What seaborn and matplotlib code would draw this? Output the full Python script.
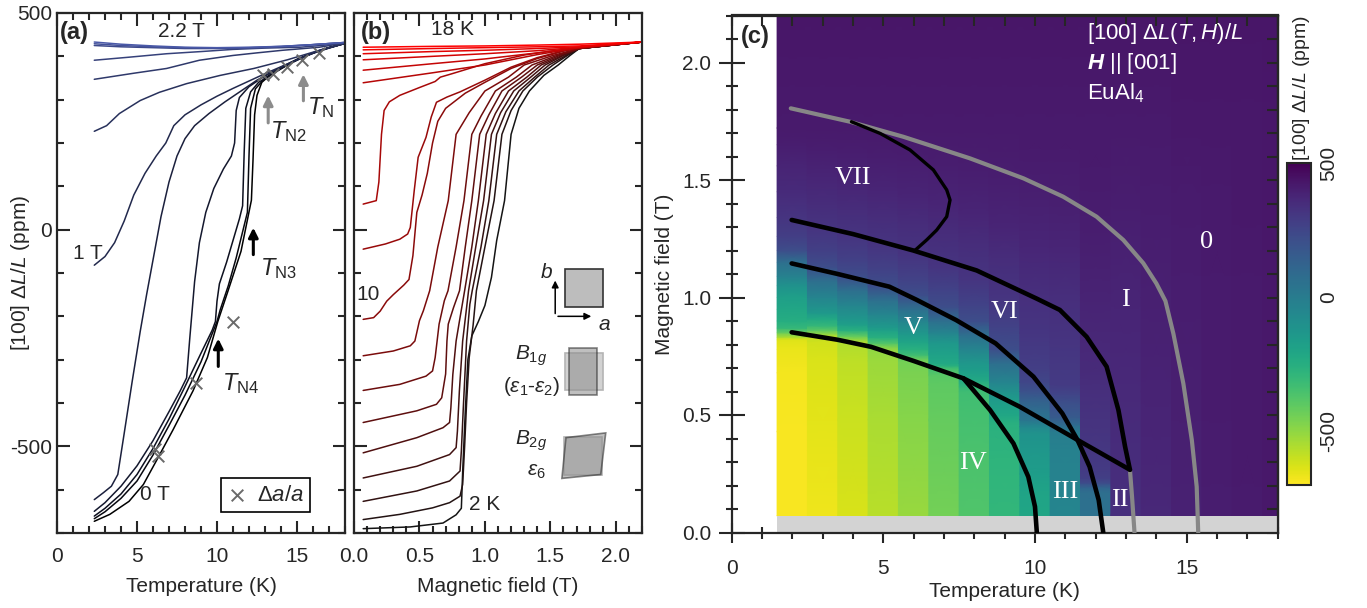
import numpy as np
import pandas as pd
import seaborn as sns
import matplotlib
matplotlib.use('Agg')
import matplotlib.pyplot as plt
from matplotlib.colors import Normalize
from matplotlib.cm import ScalarMappable
from matplotlib.patches import Rectangle, Polygon
from matplotlib.ticker import MultipleLocator

# ---------------- (a) dL/L vs temperature, one curve per field (T) ----------------
a_fields = [0.0, 0.2, 0.4, 0.6, 0.8, 1.0, 1.2, 1.4, 1.6, 1.8, 2.0, 2.2]
a_00T = [(2.33, -673), (3.3, -657), (4.5, -627), (5.4, -588), (6.2, -534), (7.25, -462), (8.5, -372),
         (9.4, -295), (10.05, -212), (10.7, -140), (11.5, -50), (12.15, 68), (12.25, 160), (12.35, 265),
         (12.5, 310), (12.8, 340), (13.3, 356), (14, 372), (15, 392), (16, 408), (17, 420), (18, 430)]
a_02T = [(2.33, -667), (3, -651), (4, -620), (5, -580), (6, -520), (7, -452), (8, -382), (9, -305),
         (10.0, -212), (10.2, -185), (10.7, -130), (11.2, -65), (11.6, -5), (11.9, 40), (12.0, 170),
         (12.1, 280), (12.4, 325), (13.0, 350), (14.0, 373), (15.0, 393), (16.0, 408), (17.0, 420), (18.0, 430)]
a_04T = [(2.33, -661), (3, -643), (4, -610), (5, -565), (6, -505), (7, -437), (8, -362), (9, -285),
         (9.7, -232), (9.9, -212), (10.0, -165), (10.15, -125), (10.6, -75), (11.0, -25), (11.4, 25),
         (11.6, 55), (11.7, 180), (11.8, 280), (12.1, 318), (12.6, 340), (13.5, 360), (14.5, 382),
         (15.5, 400), (16.5, 415), (18.0, 430)]
a_06T = [(2.33, -650), (3, -630), (4, -592), (5, -545), (6, -487), (7, -420), (7.7, -372), (8.1, -342),
         (8.3, -250), (8.6, -120), (8.9, -30), (9.3, 40), (9.8, 95), (10.4, 140), (10.9, 170), (11.1, 200),
         (11.2, 275), (11.4, 305), (12.0, 330), (13.0, 355), (14.0, 375), (15.0, 393), (16.0, 408),
         (17.0, 420), (18.0, 430)]
a_08T = [(2.33, -623), (2.9, -607), (3.4, -592), (3.8, -565), (4.2, -470), (4.7, -350), (5.2, -235),
         (5.6, -150), (6.0, -70), (6.5, 30), (7.0, 110), (7.5, 170), (8.0, 210), (8.6, 240), (9.5, 268),
         (10.5, 295), (11.5, 320), (12.5, 345), (13.5, 365), (14.5, 383), (15.5, 400), (16.5, 414), (18.0, 430)]
a_10T = [(2.33, -82), (3.0, -62), (3.6, -30), (4.2, 20), (4.8, 80), (5.5, 130), (6.2, 170), (6.8, 200),
         (7.3, 240), (8.0, 265), (9.0, 288), (10.0, 308), (11.0, 326), (12.0, 343), (13.0, 360),
         (14.0, 376), (15.0, 392), (16.0, 407), (17.0, 419), (18.0, 430)]
a_12T = [(2.33, 227), (3.1, 240), (3.9, 268), (5.2, 298), (6.4, 317), (8.1, 337), (10.2, 356),
         (12.3, 372), (14.4, 392), (16.4, 414), (18, 430)]
a_14T = [(2.33, 347), (4.8, 361), (6.85, 372), (8.9, 391), (11, 402), (12.5, 408), (14.1, 414),
         (16.4, 421), (18, 431)]
a_16T = [(2.33, 391), (4.5, 398), (6.85, 406), (9, 411), (11, 416), (13, 419), (15.2, 421),
         (16.5, 425), (18, 431)]
a_18T = [(2.33, 425), (4, 422), (6, 420), (8, 418), (10, 418), (12, 419), (14, 422), (16, 427), (18, 432)]
a_20T = [(2.33, 429), (4, 425), (6, 422), (8, 420), (10, 419), (12, 420), (14, 423), (16, 427), (18, 432)]
a_22T = [(2.33, 433), (4, 428), (6, 424), (8, 421), (10, 420), (12, 421), (14, 423), (16, 427), (18, 432)]
a_curves = [a_00T, a_02T, a_04T, a_06T, a_08T, a_10T, a_12T, a_14T, a_16T, a_18T, a_20T, a_22T]

# lattice parameter points (x markers)
a_cross_T = [6.1, 6.3, 8.7, 11.0, 12.9, 13.5, 14.4, 15.3, 16.4]
a_cross_v = [-507, -522, -353, -214, 356, 360, 375, 391, 407]

# ---------------- (b) dL/L vs field, one curve per temperature (K) ----------------
b_temps = [2, 3, 4, 5, 6, 7, 8, 9, 10, 11, 12, 13, 14, 15, 16, 17, 18]
b_02K = [(0.07, -690), (0.43, -686), (0.68, -677), (0.78, -658), (0.82, -643), (0.83, -560), (0.85, -420),
         (0.87, -300), (0.9, -245), (0.95, -212), (1.0, -175), (1.05, -110), (1.09, -25), (1.15, 67),
         (1.2, 220), (1.26, 280), (1.34, 320), (1.45, 356), (1.56, 380), (1.65, 402), (1.72, 418), (2.2, 433)]
b_03K = [(0.07, -669), (0.35, -657), (0.6, -642), (0.73, -630), (0.81, -615), (0.83, -588), (0.845, -500),
         (0.86, -400), (0.88, -295), (0.91, -220), (0.935, -141), (1.0, -40), (1.07, 67), (1.13, 220),
         (1.2, 275), (1.29, 320), (1.4, 352), (1.52, 380), (1.63, 402), (1.72, 418), (2.2, 433)]
b_04K = [(0.07, -627), (0.48, -603), (0.73, -580), (0.81, -557), (0.82, -511), (0.835, -411), (0.86, -257),
         (0.885, -172), (0.903, -141), (0.97, -40), (1.03, 67), (1.09, 220), (1.16, 272), (1.26, 320),
         (1.38, 352), (1.49, 380), (1.62, 402), (1.72, 418), (2.2, 433)]
b_05K = [(0.07, -573), (0.48, -546), (0.73, -519), (0.78, -503), (0.79, -465), (0.805, -372), (0.83, -257),
         (0.86, -180), (0.875, -141), (0.93, -40), (0.99, 67), (1.05, 220), (1.12, 270), (1.22, 320),
         (1.35, 352), (1.46, 380), (1.6, 402), (1.72, 418), (2.2, 433)]
b_06K = [(0.07, -515), (0.48, -480), (0.68, -457), (0.73, -445), (0.74, -411), (0.755, -334), (0.78, -257),
         (0.81, -203), (0.845, -141), (0.9, -40), (0.95, 67), (1.01, 220), (1.08, 268), (1.18, 320),
         (1.32, 352), (1.43, 380), (1.59, 402), (1.72, 418), (2.2, 433)]
b_07K = [(0.07, -445), (0.48, -418), (0.63, -403), (0.67, -388), (0.7, -333), (0.71, -257), (0.72, -218),
         (0.76, -180), (0.806, -141), (0.85, -40), (0.9, 67), (0.96, 220), (1.03, 265), (1.13, 320),
         (1.28, 352), (1.4, 380), (1.57, 402), (1.72, 418), (2.2, 433)]
b_08K = [(0.07, -371), (0.35, -357), (0.55, -338), (0.6, -326), (0.62, -295), (0.65, -218), (0.69, -164),
         (0.718, -141), (0.78, -40), (0.84, 67), (0.9, 220), (0.97, 262), (1.08, 320), (1.24, 352),
         (1.36, 380), (1.55, 402), (1.72, 418), (2.2, 433)]
b_09K = [(0.07, -291), (0.3, -280), (0.43, -268), (0.465, -257), (0.5, -210), (0.53, -187), (0.578, -141),
         (0.64, -40), (0.72, 67), (0.78, 220), (0.88, 270), (1.0, 320), (1.18, 352), (1.3, 380),
         (1.52, 402), (1.72, 418), (2.2, 433)]
b_10K = [(0.07, -207), (0.15, -203), (0.2, -188), (0.25, -165), (0.3, -150), (0.38, -128), (0.42, -115),
         (0.45, -60), (0.48, 40), (0.52, 80), (0.56, 130), (0.6, 200), (0.64, 250), (0.7, 280), (0.85, 315),
         (1.0, 340), (1.2, 372), (1.4, 395), (1.6, 412), (1.72, 419), (2.2, 433)]
b_11K = [(0.07, -45), (0.24, -33), (0.35, -22), (0.41, -10), (0.43, 5), (0.46, 90), (0.49, 167), (0.52, 190),
         (0.55, 213), (0.59, 260), (0.63, 294), (0.71, 306), (0.81, 318), (1.0, 345), (1.2, 375),
         (1.4, 397), (1.6, 413), (1.72, 419), (2.2, 433)]
b_12K = [(0.07, 59), (0.17, 67), (0.19, 110), (0.21, 220), (0.23, 275), (0.27, 295), (0.35, 310),
         (0.5, 328), (0.62, 342), (0.66, 352), (0.75, 360), (1.0, 383), (1.3, 403), (1.5, 412),
         (1.72, 420), (2.2, 433)]
b_13K = [(0.07, 339), (0.6, 362), (1.0, 380), (1.4, 404), (1.72, 420), (2.2, 433)]
b_14K = [(0.07, 368), (0.6, 383), (1.0, 394), (1.4, 408), (1.72, 420), (2.2, 433)]
b_15K = [(0.07, 392), (0.6, 400), (1.0, 406), (1.4, 413), (1.72, 421), (2.2, 433)]
b_16K = [(0.07, 406), (0.6, 411), (1.0, 414), (1.4, 418), (1.72, 422), (2.2, 433)]
b_17K = [(0.07, 415), (0.6, 418), (1.0, 420), (1.4, 422), (1.72, 424), (2.2, 433)]
b_18K = [(0.07, 421), (0.6, 423), (1.0, 424), (1.4, 426), (1.72, 428), (2.2, 433)]
b_curves = [b_02K, b_03K, b_04K, b_05K, b_06K, b_07K, b_08K, b_09K, b_10K, b_11K, b_12K,
            b_13K, b_14K, b_15K, b_16K, b_17K, b_18K]

# ---------------- (c) phase boundaries (T in K, H in T) ----------------
c_TN = [(1.95, 1.805), (3.9, 1.748), (5.66, 1.684), (7.86, 1.592), (9.62, 1.507), (10.93, 1.429),
        (12.03, 1.344), (12.91, 1.245), (13.57, 1.146), (14.0, 1.06), (14.3, 0.985), (14.56, 0.847),
        (14.89, 0.634), (15.17, 0.393), (15.33, 0.195), (15.38, 0.0)]
c_TN2 = [(13.13, 0.267), (13.2, 0.15), (13.28, 0.0)]
c_line1 = [(1.98, 1.33), (4.0, 1.27), (5.99, 1.2), (8.08, 1.115), (10.06, 0.995), (10.82, 0.947),
           (11.7, 0.833), (12.36, 0.706), (12.75, 0.521), (12.97, 0.365), (13.13, 0.267)]
c_line2 = [(1.98, 1.145), (3.5, 1.10), (5.2, 1.046), (6.1, 0.99), (7.4, 0.904), (8.7, 0.805),
           (9.95, 0.663), (10.9, 0.507), (11.4, 0.394), (11.8, 0.28), (12.1, 0.138), (12.25, 0.0)]
c_line3 = [(1.98, 0.852), (3.5, 0.82), (4.6, 0.79), (6.0, 0.73), (7.64, 0.656), (9.5, 0.535),
           (11.4, 0.394), (13.13, 0.267)]
c_line4 = [(7.64, 0.656), (8.52, 0.521), (9.29, 0.379), (9.78, 0.237), (10.0, 0.11), (10.06, 0.0)]
c_line7 = [(3.95, 1.748), (4.9, 1.698), (5.88, 1.628), (6.65, 1.543), (7.09, 1.458), (7.2, 1.415),
           (7.09, 1.344), (6.76, 1.287), (6.43, 1.245), (6.04, 1.2)]
c_phase_names = ['0', 'I', 'II', 'III', 'IV', 'V', 'VI', 'VII']
c_phase_T = [15.66, 12.97, 12.8, 11.0, 7.97, 5.99, 9.0, 4.01]
c_phase_H = [1.237, 0.99, 0.138, 0.174, 0.294, 0.869, 0.94, 1.507]
c_gray_top = [0.07] * 17   # lowest measured field per temperature column

# ---------------- style ----------------
sns.set_theme(style='ticks')
plt.rcParams['font.family'] = ['Liberation Sans', 'DejaVu Sans']
plt.rcParams.update({
    'font.size': 15,
    'axes.unicode_minus': False,
    'axes.linewidth': 1.6,
    'mathtext.fontset': 'custom',
    'mathtext.rm': 'Liberation Sans',
    'mathtext.it': 'Liberation Sans:italic',
    'mathtext.bf': 'Liberation Sans:bold',
    'mathtext.bfit': 'Liberation Sans:bold:italic',
})

W, H = 1367, 608
fig = plt.figure(figsize=(W / 100, H / 100), dpi=100)
axa = fig.add_axes([57 / W, 75 / H, 288 / W, 520 / H])
axb = fig.add_axes([354 / W, 75 / H, 288 / W, 520 / H])
axc = fig.add_axes([731.6 / W, 75.5 / H, 546.1 / W, 517 / H])
cax = fig.add_axes([1287 / W, 123 / H, 24 / W, 322 / H])


def long_frame(keys, curves, xname):
    rows = [(str(k), x, v) for k, c in zip(keys, curves) for x, v in c]
    return pd.DataFrame(rows, columns=['key', xname, 'v'])


def in_ticks(ax):
    ax.tick_params(which='both', direction='in', top=True, right=True, width=1.5, labelsize=15)
    ax.tick_params(which='major', length=9)
    ax.tick_params(which='minor', length=5)
    ax.tick_params(axis='x', pad=10)


# ---------------- panel (a) ----------------
pal_a = {str(B): (0.29 * B / 2.2, 0.35 * B / 2.2, 0.66 * B / 2.2) for B in a_fields}
df_a = long_frame(a_fields, a_curves, 'T')
sns.lineplot(data=df_a, x='T', y='v', hue='key', palette=pal_a, estimator=None, sort=False,
             legend=False, lw=1.1, ax=axa)
sns.scatterplot(x=a_cross_T, y=a_cross_v, marker='x', color='#6a6a6a', s=70, linewidth=1.4,
                label=r'$\Delta a/a$', ax=axa, zorder=5)
axa.set_xlim(0, 18)
axa.set_ylim(-700, 500)
axa.xaxis.set_major_locator(MultipleLocator(5))
axa.xaxis.set_minor_locator(MultipleLocator(1))
axa.yaxis.set_major_locator(MultipleLocator(500))
axa.yaxis.set_minor_locator(MultipleLocator(100))
in_ticks(axa)
axa.set_xlabel('Temperature (K)', fontsize=15, labelpad=8)
axa.set_ylabel(r'[100] $\Delta L/L$ (ppm)', fontsize=15)
axa.yaxis.set_label_coords(-0.088, 0.5)
axa.legend(loc='lower right', bbox_to_anchor=(0.88, 0.04), borderaxespad=0, fontsize=16,
           frameon=True, fancybox=False, edgecolor='black', framealpha=1, handlelength=0.8,
           handletextpad=0.5, borderpad=0.3).get_frame().set_linewidth(1.2)

for T, v0, v1, col in [(15.4, 291, 365, '#8c8c8c'), (13.2, 240, 316, '#8c8c8c'),
                       (12.27, -64, 11, 'black'), (10.08, -322, -245, 'black')]:
    axa.annotate('', xy=(T, v1), xytext=(T, v0),
                 arrowprops=dict(arrowstyle='-|>', color=col, lw=2.2, mutation_scale=14))
axa.text(15.6, 282, r'$T_{\rm N}$', fontsize=17, va='center')
axa.text(13.3, 226, r'$T_{\rm N2}$', fontsize=17, va='center')
axa.text(12.7, -90, r'$T_{\rm N3}$', fontsize=17, va='center')
axa.text(10.3, -354, r'$T_{\rm N4}$', fontsize=17, va='center')
axa.text(1.1, 455, '(a)', fontsize=17, fontweight='bold', va='center', ha='center')
axa.text(7.75, 457, '2.2 T', fontsize=15, va='center', ha='center')
axa.text(1.9, -55, '1 T', fontsize=15, va='center', ha='center')
axa.text(6.1, -611, '0 T', fontsize=15, va='center', ha='center')

# ---------------- panel (b) ----------------
pal_b = {}
for T in b_temps:
    t = (T - 2) / 16
    pal_b[str(T)] = (0.08 + 0.92 * t, 0.08 * (1 - t), 0.08 * (1 - t))
df_b = long_frame(b_temps, b_curves, 'H')
sns.lineplot(data=df_b, x='H', y='v', hue='key', palette=pal_b, estimator=None, sort=False,
             legend=False, lw=1.1, ax=axb)
axb.set_xlim(0, 2.2)
axb.set_ylim(-700, 500)
axb.xaxis.set_major_locator(MultipleLocator(0.5))
axb.xaxis.set_minor_locator(MultipleLocator(0.1))
axb.yaxis.set_major_locator(MultipleLocator(500))
axb.yaxis.set_minor_locator(MultipleLocator(100))
in_ticks(axb)
axb.tick_params(labelleft=False)
axb.set_xlabel('Magnetic field (T)', fontsize=15, labelpad=8)
axb.set_ylabel('')
axb.text(0.05, 455, '(b)', fontsize=17, fontweight='bold', va='center', ha='left')
axb.text(0.756, 462, '18 K', fontsize=15, va='center', ha='center')
axb.text(0.109, -149, '10', fontsize=15, va='center', ha='center')
axb.text(1.0, -634, '2 K', fontsize=15, va='center', ha='center')

# strain schematics
axb.add_patch(Rectangle((1.61, -178), 0.29, 88, facecolor='#bdbdbd', edgecolor='#333333', lw=1.2))
axb.annotate('', xy=(1.537, -111), xytext=(1.537, -200),
             arrowprops=dict(arrowstyle='-|>', color='black', lw=1.1, mutation_scale=10))
axb.annotate('', xy=(1.834, -200), xytext=(1.537, -200),
             arrowprops=dict(arrowstyle='-|>', color='black', lw=1.1, mutation_scale=10))
axb.text(1.47, -99, 'b', fontsize=15, style='italic', ha='center', va='center')
axb.text(1.91, -218, 'a', fontsize=15, style='italic', ha='center', va='center')
axb.add_patch(Rectangle((1.61, -371), 0.29, 87, facecolor='#d2d2d2', edgecolor='#b4b4b4', lw=1.2))
axb.add_patch(Rectangle((1.64, -382), 0.22, 110, facecolor='#8c8c8c', alpha=0.55,
                        edgecolor='#222222', lw=1.2))
axb.text(1.35, -291, r'$B_{1g}$', fontsize=15, ha='center', va='center')
axb.text(1.36, -361, r'$(\varepsilon_1$-$\varepsilon_2)$', fontsize=15, ha='center', va='center')
axb.add_patch(Rectangle((1.606, -565), 0.291, 86, facecolor='#d2d2d2', edgecolor='#b4b4b4', lw=1.2))
axb.add_patch(Polygon([(1.619, -480), (1.923, -469), (1.885, -565), (1.588, -574)], closed=True,
                      facecolor='#8c8c8c', alpha=0.55, edgecolor='#222222', lw=1.2))
axb.text(1.35, -488, r'$B_{2g}$', fontsize=15, ha='center', va='center')
axb.text(1.39, -557, r'$\varepsilon_6$', fontsize=15, ha='center', va='center')

# ---------------- panel (c) ----------------
norm = Normalize(-700, 500)
for T, curve in zip(b_temps, b_curves):
    h = np.array([p[0] for p in curve])
    v = np.array([p[1] for p in curve])
    X = np.column_stack([np.full_like(h, T - 0.5), np.full_like(h, T + 0.5)])
    axc.pcolormesh(X, np.column_stack([h, h]), np.column_stack([v, v]), shading='gouraud',
                   cmap='viridis_r', norm=norm, zorder=0, antialiased=False)
axc.bar(b_temps, c_gray_top, width=1.0, bottom=0, color='#d3d3d3', edgecolor='none',
        linewidth=0, zorder=1)


def boundary(pts, color, lw):
    sns.lineplot(x=[p[0] for p in pts], y=[p[1] for p in pts], sort=False, estimator=None,
                 color=color, lw=lw, ax=axc, zorder=3, solid_capstyle='round')


boundary(c_TN, '#878787', 3.0)
boundary(c_TN2, '#878787', 3.0)
for pts in [c_line1, c_line2, c_line3, c_line4]:
    boundary(pts, 'black', 3.3)
boundary(c_line7, 'black', 2.4)

for name, T, Hf in zip(c_phase_names, c_phase_T, c_phase_H):
    axc.text(T, Hf, name, family='Liberation Serif', fontsize=19, color='white',
             ha='center', va='center', zorder=4)

axc.text(11.71, 2.125, r'[100] $\Delta L(T,H)/L$', fontsize=16, color='white', va='center', zorder=4)
axc.text(11.71, 1.997, r'$\mathbfit{H}$ || [001]', fontsize=16, color='white', va='center', zorder=4)
axc.text(11.71, 1.868, r'EuAl$_4$', fontsize=16, color='white', va='center', zorder=4)
axc.text(0.3, 2.11, '(c)', fontsize=17, fontweight='bold', va='center', ha='left', zorder=4)

axc.set_xlim(0, 18)
axc.set_ylim(0, 2.2)
axc.xaxis.set_major_locator(MultipleLocator(5))
axc.xaxis.set_minor_locator(MultipleLocator(1))
axc.yaxis.set_major_locator(MultipleLocator(0.5))
axc.yaxis.set_minor_locator(MultipleLocator(0.1))
axc.tick_params(which='both', direction='inout', width=1.5, labelsize=15, top=False, right=False)
axc.tick_params(axis='y', which='major', length=19, pad=5)
axc.tick_params(axis='y', which='minor', length=9)
axc.tick_params(axis='x', which='major', length=14, pad=12)
axc.tick_params(axis='x', which='minor', length=9)
axc.yaxis.set_major_formatter(matplotlib.ticker.FormatStrFormatter('%.1f'))
axc.set_xlabel('Temperature (K)', fontsize=15, labelpad=3)
axc.set_ylabel('Magnetic field (T)', fontsize=15, labelpad=6)
axc.set_facecolor('white')

sx = axc.secondary_xaxis('top')
sx.xaxis.set_major_locator(MultipleLocator(5))
sx.xaxis.set_minor_locator(MultipleLocator(1))
sx.tick_params(which='both', direction='in', width=1.5, labeltop=False, length=8)
sy = axc.secondary_yaxis('right')
sy.yaxis.set_major_locator(MultipleLocator(0.5))
sy.yaxis.set_minor_locator(MultipleLocator(0.1))
sy.tick_params(which='both', direction='in', width=1.5, labelright=False, length=8)

# colourbar
cb = fig.colorbar(ScalarMappable(norm=norm, cmap='viridis_r'), cax=cax)
cb.set_ticks([-500, 0, 500])
cb.ax.yaxis.set_minor_locator(MultipleLocator(100))
cb.outline.set_linewidth(1.5)
cax.tick_params(which='both', direction='in', width=1.3, labelsize=15, pad=6)
cax.tick_params(which='major', length=7)
cax.tick_params(which='minor', length=4)
for lab in cax.get_yticklabels():
    lab.set_rotation(90)
    lab.set_va('center')
fig.text(1302 / W, 1 - 88 / H, r'[100] $\Delta L/L$ (ppm)', rotation=90, fontsize=14,
         ha='center', va='center')

fig.savefig('out.png', dpi=100)
